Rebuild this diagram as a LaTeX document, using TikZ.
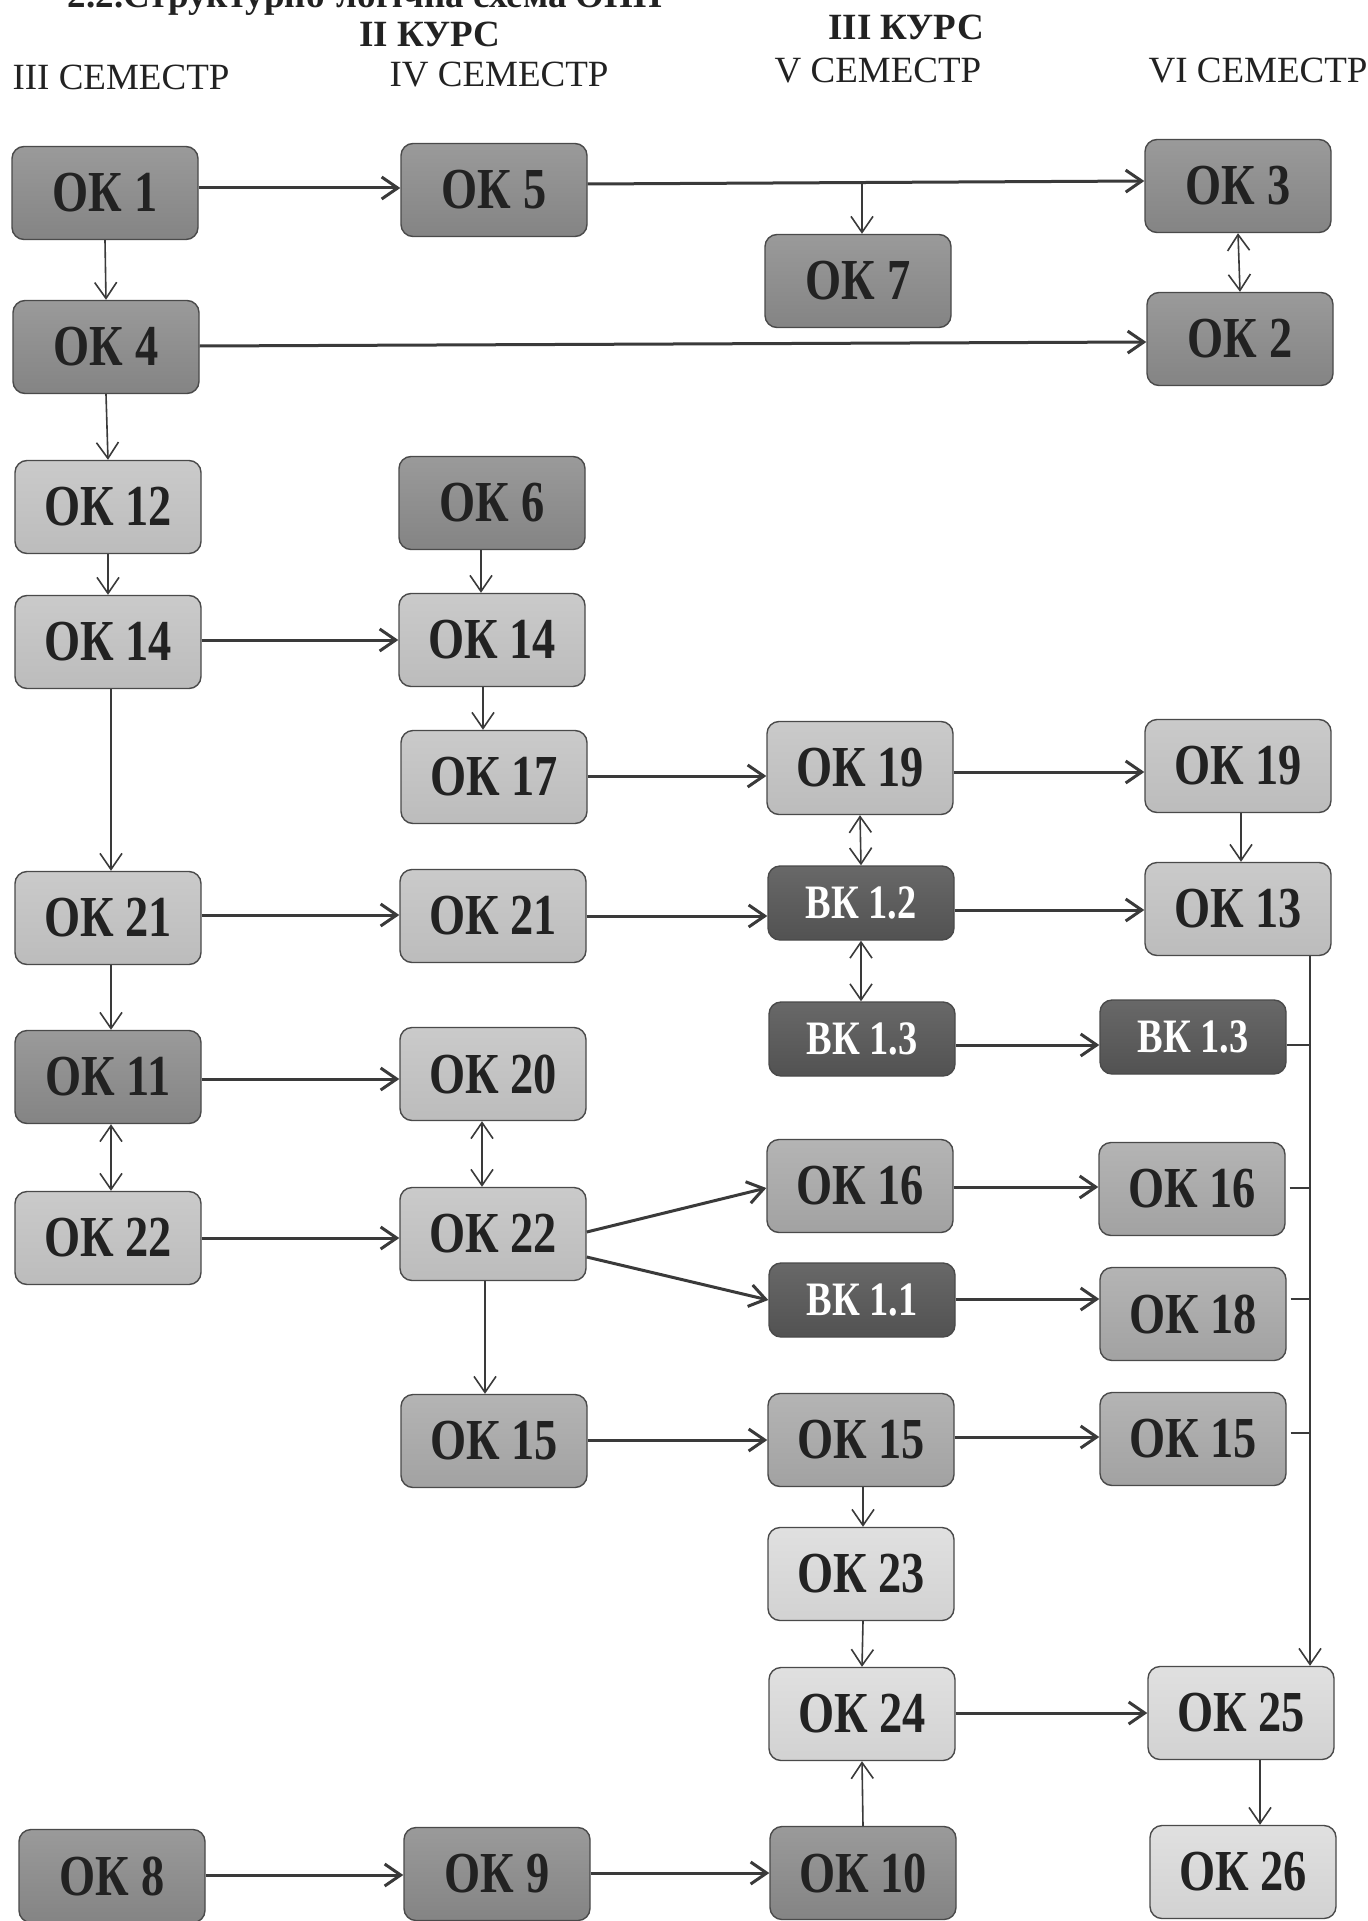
\documentclass[tikz,border=0pt]{standalone}
\usepackage{fontspec}
\setmainfont{Liberation Serif}
\newfontfamily\boxfont[FakeStretch=0.8]{Liberation Serif}
\usetikzlibrary{arrows.meta}
\definecolor{dkT}{HTML}{9A9A9A}
\definecolor{dkB}{HTML}{848484}
\definecolor{mdT}{HTML}{B4B4B4}
\definecolor{mdB}{HTML}{A2A2A2}
\definecolor{ltT}{HTML}{CACACA}
\definecolor{ltB}{HTML}{BCBCBC}
\definecolor{vlT}{HTML}{E0E0E0}
\definecolor{vlB}{HTML}{D2D2D2}
\definecolor{vkT}{HTML}{686868}
\definecolor{vkB}{HTML}{525252}
\definecolor{boxline}{HTML}{4A4A4A}
\definecolor{lncol}{HTML}{3A3A3A}
\definecolor{txt}{HTML}{222222}
\begin{document}
\begin{tikzpicture}[x=0.5pt,y=-0.5pt,
  box/.style={rectangle, rounded corners=6pt, draw=boxline, line width=0.7pt,
    minimum width=93pt, minimum height=46.5pt, inner sep=0pt, text=txt,
    font=\boxfont\bfseries\fontsize{29}{29}\selectfont},
  dk/.style={box, top color=dkT, bottom color=dkB},
  md/.style={box, top color=mdT, bottom color=mdB},
  lt/.style={box, top color=ltT, bottom color=ltB},
  vl/.style={box, top color=vlT, bottom color=vlB},
  vk/.style={box, top color=vkT, bottom color=vkB, minimum height=37pt, text=white,
    font=\boxfont\bfseries\fontsize{24}{24}\selectfont},
  hb/.style={inner sep=0pt, anchor=base, text=txt, font=\bfseries\fontsize{18.5}{18.5}\selectfont},
  hr/.style={inner sep=0pt, anchor=base, text=txt, font=\fontsize{18.5}{18.5}\selectfont},
  ar/.style={-{Straight Barb[length=8pt,width=11pt]}, line width=1.5pt, draw=lncol},
  arv/.style={-{Straight Barb[length=8pt,width=11pt]}, line width=0.8pt, draw=lncol},
  dar/.style={{Straight Barb[length=8pt,width=11pt]}-{Straight Barb[length=8pt,width=11pt]}, line width=0.8pt, draw=lncol},
  ln/.style={line width=0.8pt, draw=lncol}]
\fill[white] (0,0) rectangle (1368,1921);
\useasboundingbox (0,0) rectangle (1368,1921);

% headers
\node[hb] (hdr) at (365,8) {2.2.Структурно-логічна схема ОПП};
\node[hb] (k2) at (430,47) {II КУРС};
\node[hb] (k3) at (906,40) {III КУРС};
\node[hr] (s3) at (121,90) {III СЕМЕСТР};
\node[hr] (s4) at (499,87) {IV СЕМЕСТР};
\node[hr] (s5) at (878,83) {V СЕМЕСТР};
\node[hr] (s6) at (1258,83) {VI СЕМЕСТР};

% boxes
\node[dk] (ok1) at (105,193) {ОК 1};
\node[dk] (ok5) at (494,190) {ОК 5};
\node[dk] (ok3) at (1238,186) {ОК 3};
\node[dk] (ok7) at (858,281) {ОК 7};
\node[dk] (ok2) at (1240,339) {ОК 2};
\node[dk] (ok4) at (106,347) {ОК 4};
\node[lt] (ok12) at (108,507) {ОК 12};
\node[dk] (ok6) at (492,503) {ОК 6};
\node[lt] (ok14a) at (108,642) {ОК 14};
\node[lt] (ok14b) at (492,640) {ОК 14};
\node[lt] (ok17) at (494,777) {ОК 17};
\node[lt] (ok19a) at (860,768) {ОК 19};
\node[lt] (ok19b) at (1238,766) {ОК 19};
\node[lt] (ok21a) at (108,918) {ОК 21};
\node[lt] (ok21b) at (493,916) {ОК 21};
\node[vk] (vk12) at (861,903) {ВК 1.2};
\node[lt] (ok13) at (1238,909) {ОК 13};
\node[dk] (ok11) at (108,1077) {ОК 11};
\node[lt] (ok20) at (493,1074) {ОК 20};
\node[vk] (vk13a) at (862,1039) {ВК 1.3};
\node[vk] (vk13b) at (1193,1037) {ВК 1.3};
\node[lt] (ok22a) at (108,1238) {ОК 22};
\node[lt] (ok22b) at (493,1234) {ОК 22};
\node[md] (ok16a) at (860,1186) {ОК 16};
\node[md] (ok16b) at (1192,1189) {ОК 16};
\node[vk] (vk11) at (862,1300) {ВК 1.1};
\node[md] (ok18) at (1193,1314) {ОК 18};
\node[md] (ok15a) at (494,1441) {ОК 15};
\node[md] (ok15b) at (861,1440) {ОК 15};
\node[md] (ok15c) at (1193,1439) {ОК 15};
\node[vl] (ok23) at (861,1574) {ОК 23};
\node[vl] (ok24) at (862,1714) {ОК 24};
\node[vl] (ok25) at (1241,1713) {ОК 25};
\node[vl] (ok26) at (1243,1872) {ОК 26};
\node[dk] (ok8) at (112,1876) {ОК 8};
\node[dk] (ok9) at (497,1874) {ОК 9};
\node[dk] (ok10) at (863,1873) {ОК 10};

% coordinates
\coordinate (br) at (862,183);
\coordinate (bx) at (1310,0);

% horizontal connectors
\draw[ar] (ok1.east |- 0,188) -- (ok5.west |- 0,188);
\draw[ar] (ok5.east |- 0,184) -- (ok3.west |- 0,181);
\draw[ar] (ok4.east |- 0,346) -- (ok2.west |- 0,342);
\draw[ar] (ok14a.east |- 0,640) -- (ok14b.west |- 0,640);
\draw[ar] (ok17.east |- 0,776) -- (ok19a.west |- 0,776);
\draw[ar] (ok19a.east |- 0,772) -- (ok19b.west |- 0,772);
\draw[ar] (ok21a.east |- 0,915) -- (ok21b.west |- 0,915);
\draw[ar] (ok21b.east |- 0,916) -- (vk12.west |- 0,916);
\draw[ar] (vk12.east |- 0,910) -- (ok13.west |- 0,910);
\draw[ar] (ok11.east |- 0,1079) -- (ok20.west |- 0,1079);
\draw[ar] (vk13a.east |- 0,1045) -- (vk13b.west |- 0,1045);
\draw[ar] (ok22a.east |- 0,1238) -- (ok22b.west |- 0,1238);
\draw[ar] (ok22b.east |- 0,1232) -- (ok16a.west |- 0,1188);
\draw[ar] (ok22b.east |- 0,1257) -- (vk11.west |- 0,1300);
\draw[ar] (ok16a.east |- 0,1187) -- (ok16b.west |- 0,1187);
\draw[ar] (vk11.east |- 0,1299) -- (ok18.west |- 0,1299);
\draw[ar] (ok15a.east |- 0,1440) -- (ok15b.west |- 0,1440);
\draw[ar] (ok15b.east |- 0,1437) -- (ok15c.west |- 0,1437);
\draw[ar] (ok24.east |- 0,1713) -- (ok25.west |- 0,1713);
\draw[ar] (ok8.east |- 0,1875) -- (ok9.west |- 0,1875);
\draw[ar] (ok9.east |- 0,1873) -- (ok10.west |- 0,1873);

% vertical connectors
\draw[arv] (br) -- (br |- ok7.north);
\draw[arv] (ok1.south) -- (ok4.north);
\draw[dar] (ok3.south) -- (ok2.north);
\draw[arv] (ok4.south) -- (ok12.north);
\draw[arv] (ok12.south) -- (ok14a.north);
\draw[arv] ([xshift=-5.5pt]ok6.south) -- ([xshift=-5.5pt]ok14b.north);
\draw[arv] ([xshift=-4.5pt]ok14b.south) -- ([xshift=-5.5pt]ok17.north);
\draw[arv] ([xshift=1.5pt]ok14a.south) -- ([xshift=1.5pt]ok21a.north);
\draw[dar] (ok19a.south) -- (vk12.north);
\draw[arv] ([xshift=1.5pt]ok19b.south) -- ([xshift=1.5pt]ok13.north);
\draw[dar] (vk12.south) -- (vk13a.north -| vk12.south);
\draw[arv] ([xshift=1.5pt]ok21a.south) -- ([xshift=1.5pt]ok11.north);
\draw[dar] ([xshift=1.5pt]ok11.south) -- ([xshift=1.5pt]ok22a.north);
\draw[dar] ([xshift=-5.5pt]ok20.south) -- ([xshift=-5.5pt]ok22b.north);
\draw[arv] ([xshift=-4pt]ok22b.south) -- ([xshift=-4.5pt]ok15a.north);
\draw[arv] ([xshift=1pt]ok15b.south) -- ([xshift=1pt]ok23.north);
\draw[arv] ([xshift=1pt]ok23.south) -- (ok24.north);
\draw[arv] (ok10.north) -- (ok24.south);
\draw[arv] ([xshift=9.5pt]ok25.south) -- ([xshift=8.5pt]ok26.north);

% right bus
\draw[arv] (ok13.south -| bx) -- (ok25.north -| bx);
\draw[ln] (vk13b.east |- 0,1045) -- (bx |- 0,1045);
\draw[ln] ([xshift=2pt]ok16b.east |- 0,1188) -- (bx |- 0,1188);
\draw[ln] ([xshift=2pt]ok18.east |- 0,1299) -- (bx |- 0,1299);
\draw[ln] ([xshift=2pt]ok15c.east |- 0,1433) -- (bx |- 0,1433);
\end{tikzpicture}
\end{document}
